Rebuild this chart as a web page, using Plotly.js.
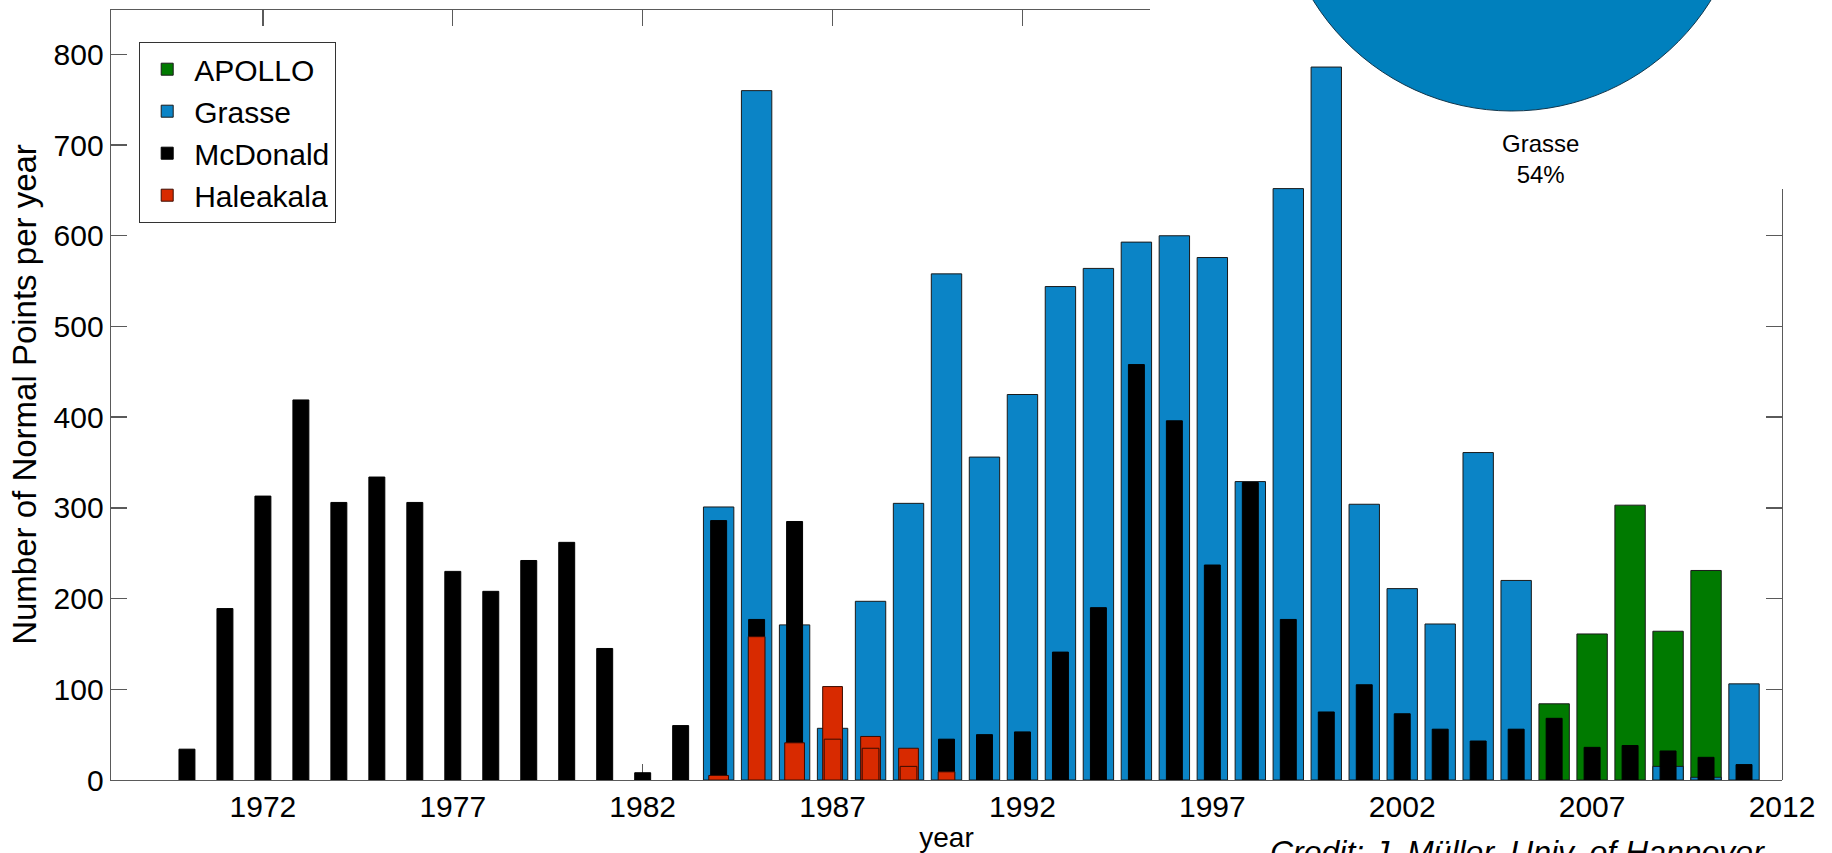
<!DOCTYPE html>
<html>
<head>
<meta charset="utf-8">
<script src="https://cdn.plot.ly/plotly-3.0.1.min.js"></script>
<style>
  html, body { margin: 0; padding: 0; overflow: hidden; background: #ffffff; width: 1832px; height: 853px; }
  #chart { position: absolute; left: 0; top: -360px; width: 1832px; height: 1213px; }
</style>
</head>
<body>
<div id="chart"></div>
<script>
// ---------------- data ----------------
const apolloYears = [2006, 2007, 2008, 2009, 2010];
const apolloNP    = [84, 161, 303, 164, 231];

const grasseYears = [1984, 1985, 1986, 1987, 1988, 1989, 1990, 1991, 1992, 1993, 1994, 1995, 1996, 1997,
                     1998, 1999, 2000, 2001, 2002, 2003, 2004, 2005, 2006, 2007, 2008, 2009, 2010, 2011];
const grasseNP    = [301, 760, 171, 57, 197, 305, 558, 356, 425, 544, 564, 593, 600, 576,
                     329, 652, 786, 304, 211, 172, 361, 220, null, null, null, 15, 3, 106];

const mcdonaldYears = [1970, 1971, 1972, 1973, 1974, 1975, 1976, 1977, 1978, 1979, 1980, 1981, 1982, 1983,
                       1984, 1985, 1986, 1987, 1988, 1989, 1990, 1991, 1992, 1993, 1994, 1995, 1996, 1997,
                       1998, 1999, 2000, 2001, 2002, 2003, 2004, 2005, 2006, 2007, 2008, 2009, 2010, 2011];
const mcdonaldNP    = [34, 189, 313, 419, 306, 334, 306, 230, 208, 242, 262, 145, 8, 60,
                       286, 177, 285, null, null, null, 45, 50, 53, 141, 190, 458, 396, 237,
                       328, 177, 75, 105, 73, 56, 43, 56, 68, 36, 38, 32, 25, 17];

const haleakalaYears  = [1984, 1986, 1987, 1988, 1989];
const haleakalaNP     = [5, 41, 103, 48, 35];
const haleakala2Years = [1985, 1987, 1988, 1989, 1990];
const haleakala2NP    = [158, 45, 35, 15, 9];

const xTickYears   = [1972, 1977, 1982, 1987, 1992, 1997, 2002, 2007, 2012];
const topTickYears = [1972, 1977, 1982, 1987, 1992];
const yTicks       = [0, 100, 200, 300, 400, 500, 600, 700, 800];
const rightTicks   = [0, 100, 200, 300, 400, 500, 600];

const pieStations = ['Grasse', 'McDonald', 'APOLLO', 'Haleakala'];
const pieShares   = [54, 38, 5, 3];

// ---------------- styling / geometry ----------------
const C_APOLLO = '#007a00', C_GRASSE = '#0b84c6', C_MCD = '#000000', C_HAL = '#d82a00', C_PIE = '#0080bd';
const AXC = '#5a5a5a';
const FONT = '"Liberation Sans", Arial, Helvetica, sans-serif';

const ML = 111, MR = 50, MB = 73, EXTRA = 360, FIG_H = 1213;
const PW = 1832 - ML - MR;          // plot width
const PH = FIG_H - MB;              // plot height (t = 0)
const AX_H = 771;                   // axes height
const yTop = AX_H / PH;
const X_RANGE = [1968, 2012], Y_RANGE = [0, 850];

const topFrac = (1150 - ML) / PW;                     // visible part of the top border
const rightFrac = (780 - 189) / PH;                   // visible part of the right border
const x2Range = [X_RANGE[0], X_RANGE[0] + (X_RANGE[1] - X_RANGE[0]) * topFrac];
const y2Range = [0, Y_RANGE[1] * (780 - 189) / AX_H];

// pie geometry (page pixels)
const PIE_CX = 1512, PIE_CY = -123, PIE_R = 234;
const pieLabel = pieStations[0] + '<br>' + pieShares[0] + '%';

const edge = { color: '#1a1a1a', width: 1 };

const traces = [
  { type: 'bar', name: 'APOLLO', x: apolloYears, y: apolloNP, width: 0.8,
    marker: { color: C_APOLLO, line: edge } },
  { type: 'bar', name: 'Grasse', x: grasseYears, y: grasseNP, width: 0.8,
    marker: { color: C_GRASSE, line: edge } },
  { type: 'bar', name: 'McDonald', x: mcdonaldYears, y: mcdonaldNP, width: 0.42,
    marker: { color: C_MCD, line: { color: '#000', width: 1 } } },
  { type: 'bar', name: 'Haleakala', x: haleakalaYears, y: haleakalaNP, width: 0.52,
    marker: { color: C_HAL, line: { color: '#3a0c00', width: 1 } } },
  { type: 'bar', name: 'Haleakala', x: haleakala2Years, y: haleakala2NP, width: 0.44, showlegend: false,
    marker: { color: C_HAL, line: { color: '#3a0c00', width: 1 } } },
  { type: 'scatter', mode: 'markers', x: [], y: [], xaxis: 'x2', yaxis: 'y2', showlegend: false, hoverinfo: 'skip' },
  { type: 'pie', labels: pieStations, values: pieShares, sort: false, direction: 'clockwise', rotation: 83,
    domain: {
      x: [(PIE_CX - PIE_R - ML) / PW, (PIE_CX + PIE_R - ML) / PW],
      y: [(PH - (EXTRA + PIE_CY + PIE_R)) / PH, (PH - (EXTRA + PIE_CY - PIE_R)) / PH]
    },
    marker: { colors: [C_PIE, '#222222', '#1b8a1b', '#d82a00'], line: { color: '#10364d', width: 1 } },
    textinfo: 'none',
    showlegend: false, hoverinfo: 'skip' }
];

const axisCommon = {
  showgrid: false, zeroline: false, showline: true, linecolor: AXC, linewidth: 1.4,
  ticks: 'inside', ticklen: 16, tickwidth: 1.4, tickcolor: AXC,
  tickfont: { family: FONT, size: 30, color: '#000' }, fixedrange: true
};

const layout = {
  width: 1832, height: FIG_H,
  margin: { l: ML, r: MR, t: 0, b: MB, pad: 0 },
  paper_bgcolor: '#ffffff', plot_bgcolor: 'rgba(0,0,0,0)',
  barmode: 'overlay', bargap: 0,
  font: { family: FONT, color: '#000' },
  xaxis: Object.assign({}, axisCommon, {
    domain: [0, 1], range: X_RANGE, tickmode: 'array', tickvals: xTickYears,
    anchor: 'y', layer: 'below traces',
    title: { text: 'year', font: { family: FONT, size: 28, color: '#000' }, standoff: 6 }
  }),
  yaxis: Object.assign({}, axisCommon, {
    domain: [0, yTop], range: Y_RANGE, tickmode: 'array', tickvals: yTicks,
    anchor: 'x', layer: 'below traces',
    title: { text: '\u00a0\u00a0\u00a0\u00a0\u00a0\u00a0\u00a0Number of Normal Points per year', font: { family: FONT, size: 33, color: '#000' }, standoff: 7 }
  }),
  xaxis2: Object.assign({}, axisCommon, {
    domain: [0, topFrac], range: x2Range, tickmode: 'array', tickvals: topTickYears,
    anchor: 'free', position: yTop, side: 'top', showticklabels: false
  }),
  yaxis2: Object.assign({}, axisCommon, {
    domain: [0, rightFrac], range: y2Range, tickmode: 'array', tickvals: rightTicks,
    anchor: 'free', position: 1, side: 'right', showticklabels: false
  }),
  legend: {
    x: 28 / PW, y: (PH - 402) / PH, xanchor: 'left', yanchor: 'top',
    bgcolor: '#ffffff', bordercolor: '#333333', borderwidth: 1.2, itemwidth: 44,
    font: { family: FONT, size: 30, color: '#000' }, traceorder: 'normal'
  },
  annotations: [
    {
      xref: 'paper', yref: 'paper', x: (1540 - ML) / PW, y: (PH - (EXTRA + 128)) / PH,
      xanchor: 'center', yanchor: 'top', showarrow: false, align: 'center',
      text: pieLabel, font: { family: FONT, size: 24, color: '#000' }
    },
    {
      xref: 'paper', yref: 'paper', x: (1268 - ML) / PW, y: 0, xanchor: 'left', yanchor: 'top',
      yshift: -52, showarrow: false,
      text: '<i>Credit: J. Müller, Univ. of Hannover</i>',
      font: { family: FONT, size: 32, color: '#000' }
    }
  ],
  showlegend: true
};

Plotly.newPlot('chart', traces, layout, { staticPlot: true, displayModeBar: false });
</script>
</body>
</html>
